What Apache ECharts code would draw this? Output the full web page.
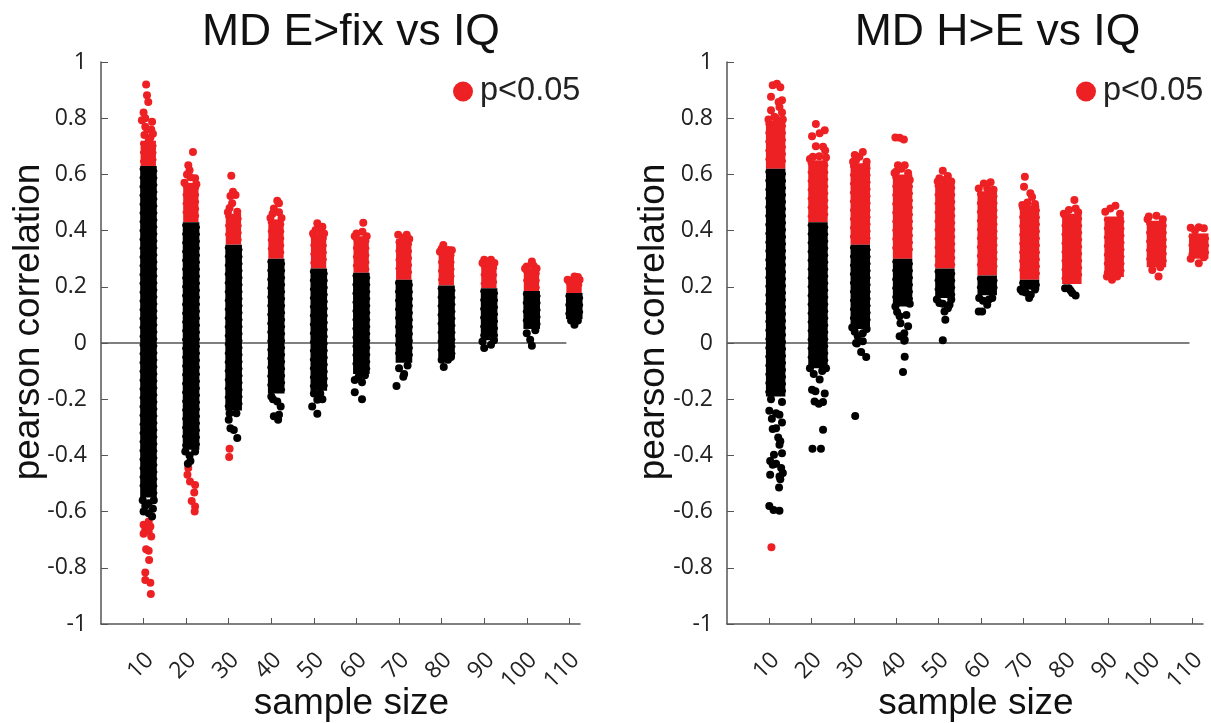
<!DOCTYPE html>
<html><head><meta charset="utf-8">
<style>html,body{margin:0;padding:0;background:#fff}#c{width:1211px;height:723px}</style>
<script src="https://cdn.jsdelivr.net/npm/echarts@6/dist/echarts.min.js"></script>
</head><body><div id="c"></div>
<script>
const sampleTicks = [10,20,30,40,50,60,70,80,90,100,110];
const corrTicks = [-1,-0.8,-0.6,-0.4,-0.2,0,0.2,0.4,0.6,0.8,1];

// [sample size, low r, high r] of the solid part of each column
const leftRedBands = [[10,0.63,0.72],[20,0.43,0.57],[30,0.35,0.46],[40,0.30,0.44],[50,0.265,0.39],[60,0.25,0.38],[70,0.225,0.37],[80,0.205,0.33],[90,0.195,0.285],[100,0.185,0.265],[110,0.175,0.225]];
const leftBlackBands = [[10,-0.55,0.63],[20,-0.38,0.43],[30,-0.24,0.35],[40,-0.18,0.30],[50,-0.17,0.265],[60,-0.11,0.25],[70,-0.07,0.225],[80,-0.05,0.205],[90,0.01,0.195],[100,0.05,0.185],[110,0.085,0.178]];
const rightRedBands = [[10,0.62,0.79],[20,0.43,0.65],[30,0.35,0.64],[40,0.30,0.60],[50,0.265,0.57],[60,0.24,0.54],[70,0.225,0.49],[80,0.21,0.46],[90,0.235,0.45],[100,0.27,0.435],[110,0.30,0.39]];
const rightBlackBands = [[10,-0.19,0.62],[20,-0.09,0.43],[30,0.05,0.35],[40,0.13,0.30],[50,0.16,0.265],[60,0.17,0.24],[70,0.19,0.225]];

// individual points [sample size + jitter, r]
const leftRedPoints = [
 [10.6,0.92],[10.8,0.882],[11.1,0.858],[10,0.82],[10.4,0.80],[12,0.787],[9.6,0.793],[10.9,0.76],[11.6,0.73],[11.2,0.72],[12,0.70],[10.4,0.77],[11.8,0.76],[10.2,0.74],[12.2,0.745],
 [21.6,0.68],[20.5,0.633],[20.8,0.615],[22.1,0.586],[20.2,0.60],[21,0.59],[19.6,0.57],[22.4,0.565],
 [30.6,0.595],[31,0.538],[30.4,0.523],[31.6,0.527],[30.8,0.497],[32,0.467],[30.2,0.48],[29.8,0.465],
 [41.4,0.506],[41.8,0.497],[40.6,0.479],[41.8,0.465],[40.3,0.46],[39.8,0.445],[42.4,0.445],
 [50.8,0.426],[52,0.414],[50.4,0.402],[51.6,0.40],[49.8,0.39],[52.4,0.39],
 [61.6,0.428],[61.4,0.396],[60,0.39],[59.6,0.38],[62.4,0.38],
 [69.8,0.385],[71.8,0.385],[70.8,0.375],[72.4,0.37],
 [80.4,0.349],[81.6,0.331],[80,0.335],[82.4,0.33],[79.6,0.325],
 [90,0.296],[91.6,0.296],[90.8,0.29],[89.6,0.285],[92.4,0.285],
 [101.2,0.29],[100,0.272],[101.6,0.275],[102.3,0.265],[99.6,0.265],
 [111.2,0.237],[110,0.219],[112,0.235],[109.6,0.225],[112.4,0.225],
 [10,-0.647],[11.2,-0.635],[11.6,-0.653],[10.4,-0.665],[11.2,-0.671],[10,-0.679],[11.8,-0.689],[10.6,-0.734],[11.2,-0.739],[11.3,-0.772],[10.4,-0.817],[10.4,-0.843],[11.6,-0.853],[11.7,-0.893],
 [20.5,-0.445],[20.3,-0.469],[20.9,-0.493],[22.1,-0.505],[21.9,-0.532],[21.3,-0.562],[22.1,-0.582],[22,-0.60],
 [30.2,-0.376],[30.1,-0.406]
];
const leftBlackPoints = [
 [11.2,-0.57],[10.4,-0.58],[12,-0.617],[10,-0.60],[11.2,-0.606],[12.2,-0.59],[9.8,-0.56],[12.4,-0.56],
 [21,-0.42],[22.1,-0.386],[19.8,-0.386],[20.8,-0.40],[20.4,-0.43],
 [30,-0.273],[30.4,-0.303],[32,-0.338],[31.2,-0.31],[31.8,-0.25],[30.2,-0.25],
 [41.4,-0.208],[42.2,-0.226],[40.6,-0.261],[41.6,-0.273],[41.8,-0.255],[40.4,-0.2],[40,-0.19],
 [50.8,-0.202],[49.6,-0.226],[50.8,-0.252],[52,-0.2],[50,-0.18],[51.5,-0.18],
 [59.6,-0.132],[61.3,-0.14],[59.6,-0.175],[61.3,-0.20],[60.5,-0.12],[62,-0.115],
 [70,-0.09],[71.2,-0.11],[69.4,-0.153],[71,-0.12],[72,-0.08],
 [80,-0.06],[80.5,-0.085],[81.5,-0.06],[82.2,-0.05],
 [90,-0.018],[91.6,-0.006],[92.3,0.01],[89.6,0.005],
 [100,0.035],[100.8,0.012],[101.2,-0.01],[102,0.045],
 [111.2,0.065],[110.4,0.08],[112,0.08]
];
const rightRedPoints = [
 [11.8,0.923],[10.8,0.917],[12.6,0.91],[10.4,0.876],[13,0.864],[12.2,0.858],[10.4,0.828],[13,0.82],[11.2,0.805],[12.4,0.84],[9.8,0.795],[13.2,0.795],[11.6,0.80],
 [21,0.779],[23.1,0.757],[20.1,0.736],[21.9,0.746],[22.7,0.698],[23.2,0.685],[20.3,0.663],[21,0.70],[19.6,0.655],[23.4,0.66],[21.8,0.665],
 [32.1,0.68],[30.2,0.669],[31.3,0.663],[32.9,0.633],[30.5,0.65],[29.8,0.645],[33,0.645],
 [39.8,0.731],[40.8,0.73],[41.8,0.724],[40.4,0.633],[42,0.633],[43.2,0.58],[40,0.61],[41.2,0.62],[42.8,0.605],[39.6,0.605],
 [51,0.613],[52.2,0.594],[50.2,0.586],[51.4,0.58],[49.8,0.575],[53,0.575],
 [60.7,0.568],[62.3,0.572],[59.5,0.55],[61.5,0.55],[63,0.545],
 [70.4,0.592],[70.2,0.556],[71.7,0.533],[72.1,0.52],[69.8,0.491],[71,0.50],[72.8,0.495],
 [82.1,0.509],[82.4,0.479],[80.8,0.473],[79.6,0.46],[83,0.465],
 [91.8,0.488],[90.6,0.479],[89.4,0.467],[92.9,0.46],[91,0.225],[89.8,0.237],[92.2,0.237],
 [99.7,0.45],[101.5,0.453],[100.5,0.26],[102,0.237],[102.4,0.27],[103,0.44],[99.4,0.44],
 [109.6,0.41],[111.5,0.412],[112.7,0.408],[111.5,0.284],[109.6,0.30],[112.7,0.305],[110.6,0.40],
 [10.5,-0.727]
];
const rightBlackPoints = [
 [10,-0.241],[10.6,-0.27],[13,-0.283],[10.8,-0.306],[11.6,-0.303],[12.1,-0.336],[12.6,-0.35],[12.4,-0.362],[13,-0.392],[11.1,-0.398],[10.2,-0.42],[10.8,-0.433],[11.6,-0.43],[12.8,-0.445],[10.2,-0.469],[13.2,-0.463],[12.4,-0.475],[12.6,-0.485],[12.3,-0.514],[10,-0.58],[11,-0.594],[12.4,-0.597],[12.4,-0.255],[11.6,-0.25],[13,-0.21],[10.4,-0.2],
 [21.9,-0.13],[20.1,-0.166],[20.9,-0.172],[23.1,-0.18],[20.7,-0.208],[21.7,-0.216],[22.7,-0.21],[22.7,-0.309],[20.2,-0.376],[22.2,-0.376],[20.5,-0.11],[22.5,-0.10],[19.6,-0.09],[23.4,-0.09],
 [30.9,0.024],[32.1,0.035],[30.5,0],[32.1,0.006],[30.7,-0.002],[31.7,-0.032],[32.9,-0.05],[30.3,-0.26],[30.2,0.04],[33,0.05],[29.6,0.055],
 [41.9,0.035],[40.8,0.024],[42,0.012],[42.8,0.06],[40.8,0.095],[43.2,0.14],[39.8,0.13],[42,-0.049],[41.6,-0.103],[41.9,0.008],[41,0.07],[42.4,0.10],[40.2,0.11],
 [50.2,0.142],[52.6,0.136],[51.4,0.112],[51.6,0.083],[51,0.01],[52.2,0.124],[51,0.14],[53,0.155],[49.6,0.155],
 [62.7,0.16],[61.5,0.136],[60.3,0.112],[59.5,0.112],[61.9,0.155],[60.5,0.15],[59.6,0.16],
 [69.8,0.183],[71.4,0.16],[71.8,0.172],[69.4,0.19],[70.6,0.18],[72.8,0.19],
 [79.9,0.195],[80.8,0.195],[81.6,0.178],[82.4,0.169],[81.2,0.187]
];

const RED = '#ED2024', INK = '#000', AXIS = '#555';
const leftGrid = {left:101, top:62, width:479, height:562, outerBoundsMode:'none'};
const rightGrid = {left:727, top:62, width:476, height:562, outerBoundsMode:'none'};
const LEGEND = 'p<0.05';

function band(data, color, gi, lo, hi){
  return {type:'custom', xAxisIndex:gi, yAxisIndex:gi, data, clip:false, z:color===RED?2:4, silent:true,
    encode:{x:0, y:[1,2]},
    renderItem(params, api){
      const a = api.coord([api.value(0)+lo, api.value(2)]);
      const b = api.coord([api.value(0)+hi, api.value(1)]);
      const edgeL = {stroke:color, lineWidth:4, lineCap:'round', lineDash:[0.1,8.7]};
      const edgeR = {stroke:color, lineWidth:4, lineCap:'round', lineDash:[0.1,6.9]};
      return {type:'group', children:[
        {type:'rect', shape:{x:a[0], y:a[1], width:b[0]-a[0], height:b[1]-a[1]}, style:{fill:color}},
        {type:'line', shape:{x1:a[0]+1.3, y1:a[1]+3, x2:a[0]+1.3, y2:b[1]-3}, style:edgeL},
        {type:'line', shape:{x1:b[0]-1.3, y1:a[1]+5, x2:b[0]-1.3, y2:b[1]-3}, style:edgeR}
      ]};
    }};
}
function dots(data, color, gi, name){
  const s = {type:'scatter', xAxisIndex:gi, yAxisIndex:gi, data, symbolSize:8, clip:false,
    itemStyle:{color, opacity:1}, z:color===RED?3:5, emphasis:{disabled:true}};
  if(name) s.name = name;
  return s;
}
function zero(gi){
  return {type:'line', xAxisIndex:gi, yAxisIndex:gi, data:[[0,0],[109.3,0]], symbol:'none',
    lineStyle:{color:AXIS, width:1.5}, z:1, silent:true};
}
const xAxis = () => ({type:'value', min:0, max:112.5, name:'sample size', nameLocation:'middle', nameGap:61, nameMoveOverlap:false,
  nameTextStyle:{fontFamily:'Liberation Sans', fontSize:37, color:'#111', padding:[0,0,0,22]},
  axisLine:{onZero:false, lineStyle:{color:AXIS, width:1.5}},
  axisTick:{inside:true, length:6, lineStyle:{color:AXIS, width:1}, customValues:sampleTicks},
  axisLabel:{customValues:sampleTicks, rotate:45, margin:39, fontFamily:'Open Sans', fontSize:23, color:'#222', padding:[0,-9,0,0]},
  splitLine:{show:false}});
const yAxis = (gap) => ({type:'value', min:-1, max:1, name:'pearson correlation', nameLocation:'middle', nameGap:gap, nameMoveOverlap:false,
  nameTextStyle:{fontFamily:'Liberation Sans', fontSize:37, color:'#111', padding:[0,0,0,42]},
  axisLine:{show:true, lineStyle:{color:AXIS, width:1.5}},
  axisTick:{show:true, inside:true, length:7, lineStyle:{color:AXIS, width:1}, customValues:corrTicks},
  axisLabel:{customValues:corrTicks, margin:14, fontFamily:'Open Sans', fontSize:23, color:'#222'},
  splitLine:{show:false}});
const legend = (left) => ({show:true, left, top:70, data:[{name:LEGEND, icon:'circle'}], itemWidth:20, itemHeight:20, itemGap:0, selectedMode:false,
  textStyle:{fontFamily:'Liberation Sans', fontSize:32.5, color:'#222', padding:[0,0,0,2]}});
const title = (text, x) => ({text, left:x, top:5, textAlign:'center',
  textStyle:{fontFamily:'Liberation Sans', fontSize:44.5, fontWeight:'normal', color:'#111'}});

const chart = echarts.init(document.getElementById('c'), null, {renderer:'canvas'});
chart.setOption({
  animation:false, backgroundColor:'#fff',
  title:[title('MD E>fix vs IQ',346), title('MD H>E vs IQ',992.5)],
  legend:[legend(448), legend(1071)],
  grid:[leftGrid, rightGrid],
  xAxis:[Object.assign(xAxis(),{gridIndex:0}), Object.assign(xAxis(),{gridIndex:1})],
  yAxis:[Object.assign(yAxis(54),{gridIndex:0}), Object.assign(yAxis(55),{gridIndex:1})],
  series:[
    zero(0), zero(1),
    band(leftRedBands,RED,0,-0.7,2.9), band(leftBlackBands,INK,0,-0.8,3.1),
    dots(leftRedPoints,RED,0,LEGEND), dots(leftBlackPoints,INK,0),
    band(rightRedBands,RED,1,-0.8,3.8), band(rightBlackBands,INK,1,-0.8,3.8),
    dots(rightRedPoints,RED,1,LEGEND), dots(rightBlackPoints,INK,1)
  ]
});
</script></body></html>
